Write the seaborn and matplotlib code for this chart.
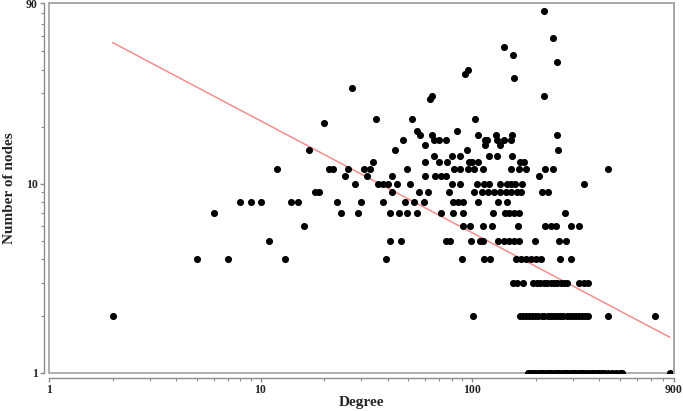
"""
Degree distribution scatter on log-log axes with a power-law trend line.
"""

import numpy as np
import pandas as pd
import matplotlib
matplotlib.use("Agg")
import matplotlib.pyplot as plt
from matplotlib.ticker import FixedLocator, FixedFormatter, LogLocator, NullFormatter
from matplotlib.patches import Rectangle
import seaborn as sns

# ── data: degree values grouped by number of nodes ──
deg_n1 = [183, 188, 193, 199, 205, 211, 217, 224, 230, 237, 244, 251, 258, 266,
          274, 282, 290, 299, 308, 317, 326, 336, 346, 356, 367, 378, 389, 400,
          412, 422, 440, 460, 480, 500, 512, 860]
deg_n2 = [2, 101, 168, 174, 180, 186, 192, 199, 206, 213, 220, 228, 236, 244, 252,
          261, 270, 280, 290, 300, 310, 320, 331, 342, 352, 437, 730]
deg_n3 = [156, 163, 174, 195, 202, 210, 218, 226, 235, 244, 253, 262, 272, 280,
          320, 337, 355]
deg_n4 = [5, 7, 13, 39, 90, 114, 121, 161, 170, 180, 190, 200, 212, 260, 294]
deg_n5 = [11, 41, 46, 75, 79, 99, 109, 113, 133, 141, 150, 158, 166, 198, 258, 279]
deg_n6 = [16, 91, 98, 113, 124, 164, 222, 236, 250, 292, 322]
deg_n7 = [6, 24, 29, 41, 45, 49, 55, 71, 81, 91, 125, 143, 150, 158, 167, 276]
deg_n8 = [8, 9, 10, 14, 15, 23, 30, 38, 48, 53, 59, 81, 86, 91, 107, 133, 146]
deg_n9 = [18, 19, 42, 56, 62, 78, 102, 111, 119, 127, 136, 145, 152, 163, 170,
          215, 228]
deg_n10 = [28, 36, 38, 40, 44, 51, 80, 88, 105, 114, 120, 136, 146, 152, 160,
           172, 337]
deg_n11 = [25, 32, 42, 60, 67, 71, 75, 207]
deg_n12 = [12, 21, 22, 26, 31, 33, 49, 82, 88, 96, 102, 113, 152, 166, 179, 222,
           241, 437]
deg_n13 = [34, 60, 70, 76, 97, 100, 107, 169, 176]
deg_n14 = [66, 80, 88, 120, 131, 154]
deg_n15 = [17, 43, 95, 255]
deg_n16 = [60, 115, 136]
deg_n17 = [47, 66, 70, 75, 115, 118, 131, 141, 153]
deg_n18 = [57, 65, 107, 130, 154, 252]
deg_n19 = [55, 85]

# sparse points higher up
deg_high = [20, 35, 52, 103, 63, 65, 220, 27, 158, 93, 96, 252, 156, 141, 241, 220]
nodes_high = [21, 22, 22, 22, 28, 29, 29, 32, 36, 38, 40, 44, 48, 53, 59, 82]

# fitted power law: log10(n) = intercept + slope * log10(degree)
fit_slope = -0.591
fit_intercept = 1.923

x_ticks = [1, 10, 100, 900]
y_ticks = [1, 10, 90]


def main():
    rows = [deg_n1, deg_n2, deg_n3, deg_n4, deg_n5, deg_n6, deg_n7, deg_n8,
            deg_n9, deg_n10, deg_n11, deg_n12, deg_n13, deg_n14, deg_n15,
            deg_n16, deg_n17, deg_n18, deg_n19]
    parts = [pd.DataFrame({"degree": r, "nodes": i + 1}) for i, r in enumerate(rows)]
    parts.append(pd.DataFrame({"degree": deg_high, "nodes": nodes_high}))
    df = pd.concat(parts, ignore_index=True)

    line_x = np.array([df["degree"].min(), df["degree"].max()], dtype=float)
    line_df = pd.DataFrame({
        "degree": line_x,
        "nodes": 10 ** (fit_intercept + fit_slope * np.log10(line_x)),
    })

    sns.set_theme(style="white")
    plt.rcParams["font.family"] = ["Liberation Serif", "DejaVu Serif"]

    fig = plt.figure(figsize=(6.83, 4.11), dpi=100)
    ax = fig.add_axes([0.0717, 0.0925, 0.915, 0.9002])
    ax.set_xscale("log")
    ax.set_yscale("log")

    sns.lineplot(data=line_df, x="degree", y="nodes", color="#f28e8e",
                 linewidth=1.1, ax=ax, zorder=1)
    sns.scatterplot(data=df, x="degree", y="nodes", color="black", s=26,
                    linewidth=0, ax=ax, zorder=2)

    ax.set_xlim(1, 900)
    ax.set_ylim(1, 90)

    frame_col = "#a8a8a8"
    for side in ["top", "right"]:
        ax.spines[side].set_color(frame_col)
        ax.spines[side].set_linewidth(1.3)
    for side in ["left", "bottom"]:
        ax.spines[side].set_position(("outward", 3.5))
        ax.spines[side].set_color("#8c8c8c")
        ax.spines[side].set_linewidth(1.0)
    ax.add_patch(Rectangle((0, 0), 1, 1, transform=ax.transAxes, fill=False,
                           edgecolor=frame_col, linewidth=1.3, clip_on=False,
                           zorder=0))

    ax.xaxis.set_major_locator(FixedLocator(x_ticks))
    ax.xaxis.set_major_formatter(FixedFormatter([str(v) for v in x_ticks]))
    ax.yaxis.set_major_locator(FixedLocator(y_ticks))
    ax.yaxis.set_major_formatter(FixedFormatter([str(v) for v in y_ticks]))
    ax.xaxis.set_minor_locator(LogLocator(base=10, subs=range(2, 10)))
    ax.yaxis.set_minor_locator(LogLocator(base=10, subs=range(2, 10)))
    ax.xaxis.set_minor_formatter(NullFormatter())
    ax.yaxis.set_minor_formatter(NullFormatter())
    ax.tick_params(which="both", direction="out", color="#8c8c8c",
                   bottom=True, left=True, labelsize=8.5, pad=1.5)
    ax.tick_params(which="major", length=3, width=1)
    ax.tick_params(which="minor", length=2, width=0.8)
    for lbl in ax.get_xticklabels() + ax.get_yticklabels():
        lbl.set_fontweight("bold")

    ax.set_xlabel("Degree", fontsize=11, fontweight="bold", labelpad=0)
    ax.set_ylabel("Number of nodes", fontsize=11, fontweight="bold", labelpad=7)

    fig.savefig("out.png", dpi=100)


if __name__ == "__main__":
    main()
